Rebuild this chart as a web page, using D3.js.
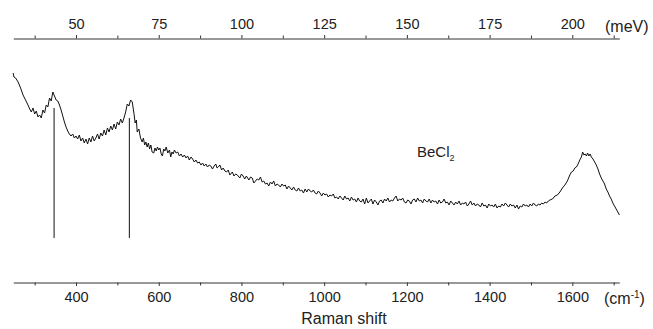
<!DOCTYPE html>
<html>
<head>
<meta charset="utf-8">
<script src="https://cdn.jsdelivr.net/npm/d3@7"></script>
<style>
    body { margin: 0; background: #fff; }
    text { font-family: "Liberation Sans", Arial, sans-serif; fill: #222; }
</style>
</head>
<body>
<div id="chart"></div>
<script>
// Raman spectrum of BeCl2: [shift (cm-1), intensity (arb. units)]
const spectrum = [
    [248,187],[250,183],[254,182],[260,178],[266,172],[272,165],[278,160],[284,155],[288,151],[292,148],
    [296,152],[300,146],[304,149],[308,143],[312,145],[316,142],[320,150],[324,147],[328,155],[332,153],
    [336,162],[340,159],[344,168],[348,164],[352,160],[356,159],[360,155],[364,150],[368,144],[372,138],
    [376,133],[380,129],[384,126],[388,124],[392,126],[396,122],[400,124],[404,121],[408,125],[412,119],
    [416,122],[420,117],[424,121],[428,116],[432,122],[436,118],[440,124],[444,119],[448,122],[452,126],
    [456,121],[460,127],[464,124],[468,130],[472,125],[476,132],[480,128],[484,134],[488,130],[492,136],
    [496,131],[500,138],[504,135],[508,141],[512,137],[516,142],[520,148],[524,156],[528,154],[532,160],
    [536,158],[540,147],[543,137],[546,140],[548,128],[552,131],[556,122],[560,118],[563,122],[566,115],
    [569,118],[572,113],[575,117],[578,111],[581,115],[584,108],[588,107],[591,112],[594,109],[597,113],
    [600,110],[603,112],[606,106],[609,104],[612,111],[615,109],[618,113],[622,107],[626,110],[629,103],
    [632,108],[635,106],[638,110],[642,107],[646,108],[650,104],[654,106],[658,103],[662,105],[666,102],
    [670,104],[674,100],[678,103],[682,101],[686,98],[690,100],[694,97],[698,98],[702,95],[706,97],
    [710,94],[714,96],[718,93],[722,95],[726,94],[730,91],[734,94],[738,96],[741,92],[744,93],
    [748,95],[752,90],[756,92],[760,89],[764,88],[768,90],[772,85],[778,88],[782,84],[786,86],
    [790,85],[796,82],[800,86],[804,84],[808,81],[812,84],[818,80],[822,83],[826,82],[830,77],
    [834,79],[838,81],[842,80],[846,83],[850,78],[854,79],[858,76],[862,77],[866,74],[870,78],
    [874,76],[878,79],[882,74],[886,76],[890,75],[894,73],[898,76],[902,74],[906,75],[910,71],
    [914,74],[918,72],[922,70],[926,73],[930,70],[934,69],[938,72],[942,69],[946,70],[950,67],
    [954,71],[958,68],[962,71],[966,69],[970,68],[974,70],[978,67],[982,66],[986,69],[990,67],
    [994,64],[998,67],[1002,65],[1006,66],[1010,63],[1014,65],[1018,64],[1022,66],[1026,62],[1030,63],
    [1034,61],[1038,64],[1042,62],[1046,60],[1050,64],[1054,61],[1058,62],[1062,59],[1066,63],[1070,60],
    [1074,61],[1078,58],[1082,62],[1086,59],[1090,58],[1094,61],[1098,56],[1102,62],[1106,57],[1110,59],
    [1114,61],[1118,56],[1122,60],[1126,58],[1130,55],[1134,59],[1138,60],[1142,57],[1146,61],[1150,59],
    [1154,62],[1158,58],[1162,60],[1166,59],[1170,62],[1174,64],[1178,59],[1182,61],[1186,60],[1190,62],
    [1194,58],[1198,57],[1202,60],[1206,59],[1210,56],[1214,60],[1218,61],[1222,58],[1226,62],[1230,59],
    [1234,60],[1238,57],[1242,61],[1246,59],[1250,58],[1254,61],[1258,57],[1262,60],[1266,58],[1270,59],
    [1274,56],[1278,60],[1282,57],[1286,58],[1290,61],[1294,57],[1298,58],[1302,55],[1306,59],[1310,57],
    [1314,55],[1318,58],[1322,56],[1326,59],[1330,55],[1334,57],[1338,56],[1342,58],[1346,54],[1350,56],
    [1354,59],[1358,55],[1362,57],[1366,54],[1370,56],[1374,55],[1378,53],[1382,57],[1386,54],[1390,55],
    [1394,52],[1398,56],[1402,54],[1406,55],[1410,53],[1414,56],[1418,52],[1422,54],[1426,53],[1430,56],
    [1434,54],[1438,57],[1442,55],[1446,53],[1450,56],[1454,54],[1458,55],[1462,52],[1466,55],[1470,51],
    [1474,54],[1478,53],[1482,56],[1486,54],[1490,55],[1494,53],[1498,56],[1502,54],[1506,57],[1510,55],
    [1514,54],[1518,56],[1522,55],[1526,57],[1530,56],[1534,58],[1538,57],[1542,59],[1546,60],[1552,61],
    [1558,64],[1564,65],[1570,68],[1576,72],[1582,75],[1588,79],[1594,85],[1598,88],[1602,89],[1606,92],
    [1610,93],[1614,96],[1618,100],[1622,103],[1625,108],[1628,105],[1631,106],[1634,104],[1637,107],[1640,104],
    [1643,106],[1646,103],[1650,101],[1654,98],[1658,95],[1662,91],[1666,86],[1670,82],[1674,79],[1678,76],
    [1682,71],[1686,68],[1690,64],[1694,61],[1698,57],[1702,54],[1706,51],[1710,48],[1714,45]
];

// vertical marker lines at the two low-frequency peaks
const peakShifts = [347, 529];
const peakTops = [152, 142];
const markerBase = 22;

// axis ticks
const cmTicks = [400, 600, 800, 1000, 1200, 1400, 1600];
const cmMinorTicks = [300, 500, 700, 900, 1100, 1300, 1500, 1700];
const meVTicks = [50, 75, 100, 125, 150, 175, 200];
const meVMinorTicks = [37.5, 62.5, 87.5, 112.5, 137.5, 162.5, 187.5, 212.5];

const width = 653;
const height = 329;
const left = 13.3;
const right = 619.3;
const topAxisY = 38.5;
const bottomAxisY = 282.5;

const svg = d3.select("#chart").append("svg")
    .attr("width", width)
    .attr("height", height);

const x = d3.scaleLinear()
    .domain([248.4, 1713.6])
    .range([left, right]);

// top scale in meV (1 meV ~ 8 cm-1 on this plot)
const xMeV = d3.scaleLinear()
    .domain([248.4 / 8, 1713.6 / 8])
    .range([left, right]);

const y = d3.scaleLinear()
    .domain([0, 200])
    .range([260, 60]);

const axisColor = "#333";
const fmt = d3.format("d");

// bottom axis
svg.append("g")
    .attr("transform", `translate(0,${bottomAxisY})`)
    .call(d3.axisBottom(x).tickValues(cmTicks).tickSize(3.5).tickSizeOuter(0).tickPadding(6).tickFormat(fmt));
svg.append("g")
    .attr("transform", `translate(0,${bottomAxisY})`)
    .call(d3.axisBottom(x).tickValues(cmMinorTicks).tickSize(3).tickSizeOuter(0).tickFormat(""))
    .select(".domain").remove();

// top axis
svg.append("g")
    .attr("transform", `translate(0,${topAxisY})`)
    .call(d3.axisTop(xMeV).tickValues(meVTicks).tickSize(3.5).tickSizeOuter(0).tickPadding(6).tickFormat(fmt));
svg.append("g")
    .attr("transform", `translate(0,${topAxisY})`)
    .call(d3.axisTop(xMeV).tickValues(meVMinorTicks).tickSize(3).tickSizeOuter(0).tickFormat(""))
    .select(".domain").remove();

svg.selectAll(".domain, .tick line")
    .attr("stroke", axisColor)
    .attr("stroke-width", 1);
svg.selectAll(".tick text")
    .attr("font-family", "Liberation Sans, Arial, sans-serif")
    .attr("font-size", 14.5)
    .attr("fill", "#222");

// unit labels
svg.append("text")
    .attr("x", 605)
    .attr("y", 32)
    .attr("font-size", 16)
    .text("(meV)");

const cmLabel = svg.append("text")
    .attr("x", 604)
    .attr("y", 303.5)
    .attr("font-size", 16);
cmLabel.append("tspan").text("(cm");
cmLabel.append("tspan").attr("dy", -6).attr("font-size", 10).text("-1");
cmLabel.append("tspan").attr("dy", 6).text(")");

svg.append("text")
    .attr("x", 344)
    .attr("y", 324)
    .attr("text-anchor", "middle")
    .attr("font-size", 16)
    .text("Raman shift");

// marker lines
peakShifts.forEach((s, i) => {
    svg.append("line")
        .attr("x1", x(s))
        .attr("x2", x(s))
        .attr("y1", y(peakTops[i]))
        .attr("y2", y(markerBase))
        .attr("stroke", "#111")
        .attr("stroke-width", 1);
});

// spectrum
const line = d3.line()
    .x(d => x(d[0]))
    .y(d => y(d[1]));

svg.append("path")
    .datum(spectrum)
    .attr("d", line)
    .attr("fill", "none")
    .attr("stroke", "#111")
    .attr("stroke-width", 1)
    .attr("stroke-linejoin", "round");

// compound label
const label = svg.append("text")
    .attr("x", 417)
    .attr("y", 157)
    .attr("font-size", 15);
label.append("tspan").text("BeCl");
label.append("tspan").attr("dy", 4).attr("font-size", 9).text("2");
</script>
</body>
</html>
